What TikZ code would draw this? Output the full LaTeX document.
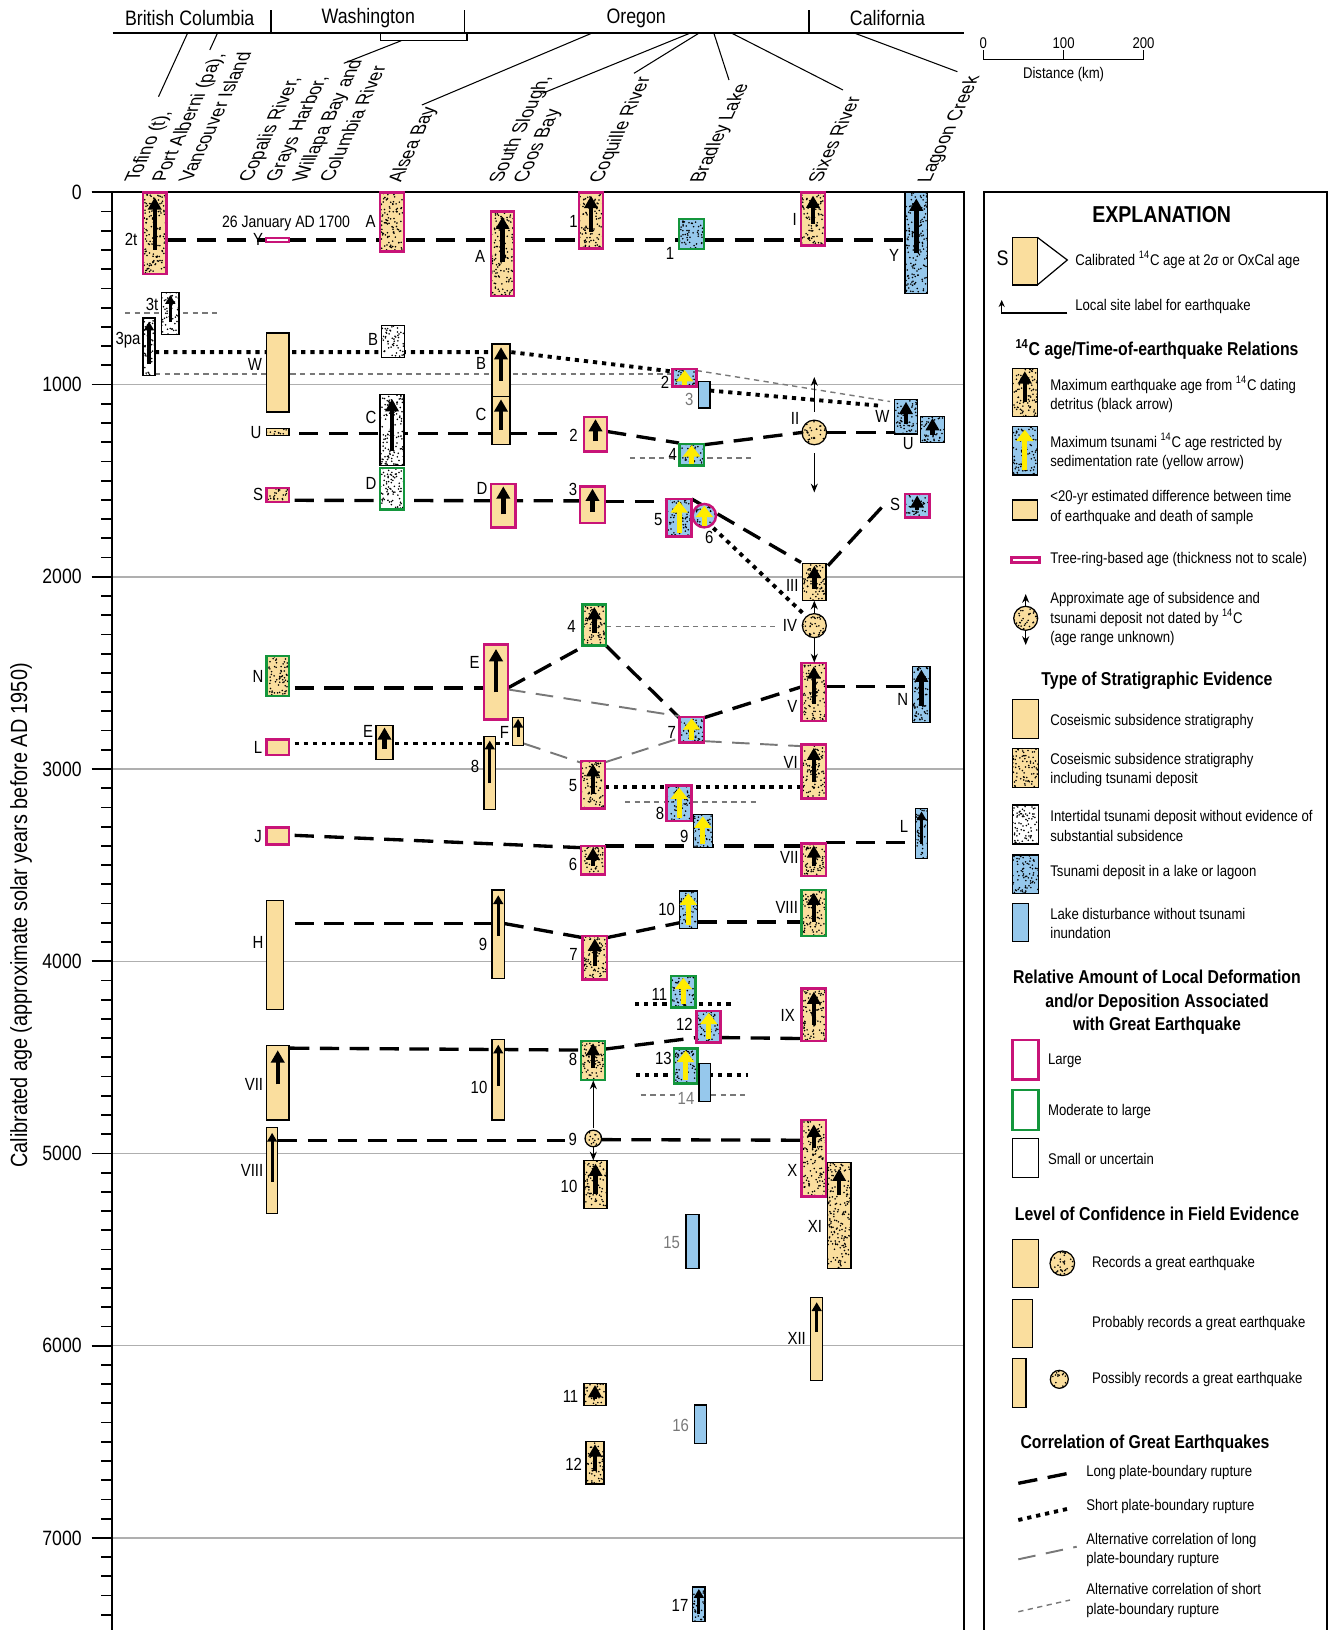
\documentclass[tikz,border=0pt]{standalone}
\usepackage{fontspec}
\setmainfont[FakeStretch=0.85]{Liberation Sans}
\usetikzlibrary{arrows.meta}

\definecolor{sand}{RGB}{250,222,158}
\definecolor{lblue}{RGB}{150,200,236}
\definecolor{qmag}{RGB}{200,20,120}
\definecolor{qgrn}{RGB}{20,150,60}
\definecolor{qyel}{RGB}{255,236,0}
\definecolor{rulegray}{RGB}{175,175,175}
\definecolor{altgray}{RGB}{120,120,120}

\tikzset{
  specks/.style={path picture={%
    \pgfpointdiff{\pgfpointanchor{path picture bounding box}{south west}}{\pgfpointanchor{path picture bounding box}{north east}}%
    \pgfgetlastxy{\spw}{\sph}%
    \pgfmathtruncatemacro{\spn}{\spw*\sph/4.5+1}%
    \foreach \k in {1,...,\spn}{\fill[black] ([shift={(rnd*\spw,rnd*\sph)}]path picture bounding box.south west) circle[radius=0.5pt];}%
  }},
  fsand/.style={fill=sand},
  fsdot/.style={fill=sand, specks},
  fwdot/.style={fill=white, specks},
  fbdot/.style={fill=lblue, specks},
  fblue/.style={fill=lblue},
  bmag/.style={draw=qmag, line width=1.4pt},
  bgrn/.style={draw=qgrn, line width=1.4pt},
  bblk/.style={draw=black, line width=0.7pt},
  blk/.style={draw=black, line width=2.5pt, -{Triangle[length=7pt, width=7.5pt]}},
  blks/.style={draw=black, line width=1.8pt, -{Triangle[length=5pt, width=5.5pt]}},
  yel/.style={draw=qyel, line width=3pt, -{Triangle[length=6.5pt, width=9.5pt]}},
  nar/.style={draw=none},
  longrup/.style={line width=1.9pt, dash pattern=on 11pt off 6pt},
  shortrup/.style={line width=2.2pt, dash pattern=on 2.4pt off 2.8pt},
  altlong/.style={draw=altgray, line width=1.1pt, dash pattern=on 10pt off 6pt},
  altshort/.style={draw=altgray, line width=0.8pt, dash pattern=on 3pt off 2.5pt},
  rule/.style={draw=rulegray, line width=0.8pt},
  thinarr/.style={line width=0.6pt, -{Stealth[length=5pt, width=4pt]}},
}

% box with optional arrow: [arrow style][tail fraction]{x1}{x2}{top}{bottom}{box style}
\NewDocumentCommand{\qb}{O{nar} O{0.7} m m m m m}{%
  \draw[#7] (#3,#5) rectangle (#4,#6);
  \draw[#1] ({(#3+#4)/2},{#5+#2*(#6-#5)}) -- ({(#3+#4)/2},{#5+0.06*(#6-#5)});
}

\begin{document}
\begin{tikzpicture}[x=0.02cm, y=-0.02cm,
  plbl/.style={font=\fontsize{10}{12}\selectfont, inner sep=0pt},
  glbl/.style={plbl, text=altgray},
  hdr/.style={font=\fontsize{11.9}{14}\selectfont, inner sep=0pt},
  site/.style={font=\fontsize{11.3}{15.4}\selectfont, inner sep=0pt, align=left,
    anchor=north west, xslant=0.466, rotate=90},
  tlbl/.style={font=\fontsize{11.8}{14}\selectfont, anchor=east, inner sep=0pt},
  etxt/.style={font=\fontsize{8.8}{11}\selectfont, anchor=west, align=left, inner sep=0pt},
  ehead/.style={font=\bfseries\fontsize{10.6}{13.3}\selectfont, align=center, inner sep=0pt}]
\pgfmathsetseed{7}
\useasboundingbox (0,0) rectangle (1329,1630);

% header
\draw[line width=1.1pt] (112.5,33.3) -- (964,33.3);
\foreach \dx in {271,464.3,809} \draw[line width=0.7pt] (\dx,10) -- (\dx,33.3);
\draw[line width=0.7pt] (380.4,33.3) -- (380.4,40.7) -- (467,40.7) -- (467,33.3);
\node[hdr] (bc) at (189.7,18.3) {British Columbia};
\node[hdr] (wa) at (368.3,18.3) {Washington};
\node[hdr] (or) at (636.2,18.3) {Oregon};
\node[hdr] (ca) at (887.5,18.3) {California};

% distance scale
\draw[line width=0.9pt] (983.3,50) -- (983.3,59.3) -- (1143.5,59.3) -- (1143.5,50);
\draw[line width=0.9pt] (1063.6,50) -- (1063.6,59.3);
\node[etxt, anchor=center] (k0) at (983.3,42.7) {0};
\node[etxt, anchor=center] (k100) at (1063.6,42.7) {100};
\node[etxt, anchor=center] (k200) at (1143.5,42.7) {200};
\node[etxt, anchor=center] (kdist) at (1063.6,74) {Distance (km)};

% site names and leaders
\node[site] (sTof) at (122.8,182) {Tofino (t),\\Port Alberni (pa),\\Vancouver Island};
\node[site] (sCop) at (236.6,182) {Copalis River,\\Grays Harbor,\\Willapa Bay and\\Columbia River};
\node[site] (sAls) at (386,183) {Alsea Bay};
\node[site, font=\fontsize{11.3}{14}\selectfont] (sSou) at (486.6,182.7) {South Slough,\\Coos Bay};
\node[site] (sCoq) at (587,182.7) {Coquille River};
\node[site] (sBra) at (688,182.7) {Bradley Lake};
\node[site] (sSix) at (806.3,182.7) {Sixes River};
\node[site] (sLag) at (915.5,182.7) {Lagoon Creek};
\draw[line width=0.6pt] (187.5,33.3) -- (158.5,96.7);
\draw[line width=0.6pt] (217.4,33.3) -- (209.8,50);
\draw[line width=0.6pt] (401.3,40.7) -- (343.8,63.3);
\draw[line width=0.6pt] (591.5,33.3) -- (421.9,105);
\draw[line width=0.6pt] (689.7,33.3) -- (542.4,93.3);
\draw[line width=0.6pt] (698.7,33.3) -- (634,73.3);
\draw[line width=0.6pt] (713.9,33.3) -- (729,80);
\draw[line width=0.6pt] (732,33.3) -- (843,90);
\draw[line width=0.6pt] (855,33.3) -- (957.4,71.7);

\node[rotate=90, font=\fontsize{13.3}{16}\selectfont, inner sep=0pt] (ytitle) at (21,915.5)
  {Calibrated age (approximate solar years before AD 1950)};

% chart: y in years
\begin{scope}[yshift=-3.848cm, y=-0.003848cm]
  \foreach \a in {1000,2000,...,7000} \draw[rule] (112,\a) -- (964,\a);
  \foreach \a in {100,200,...,7400} \draw[line width=1pt] (101,\a) -- (112,\a);
  \foreach \a in {0,1000,...,7000} {
    \draw[line width=1pt] (91.5,\a) -- (112,\a);
    \node[tlbl] at (82,\a) {\a};
  }
  \draw[line width=1.1pt] (112,0) -- (112,7480);
  \draw[line width=1.1pt] (91.5,0) -- (964,0) -- (964,7480);

  % long plate-boundary ruptures
  \draw[longrup] (167,247) -- (905,247);
  \draw[longrup] (299,1255) -- (562,1255);
  \draw[longrup] (607,1244) -- (679,1304);
  \draw[longrup] (704,1313) -- (802,1249);
  \draw[longrup] (826.6,1249) -- (894,1249);
  \draw[longrup] (294.6,1602) -- (581,1605);
  \draw[longrup] (605,1607) -- (666.7,1607);
  \draw[longrup] (691.7,1595) -- (801,1925);
  \draw[longrup] (828,1942) -- (885,1620);
  \draw[longrup] (294.6,2578) -- (484,2578);
  \draw[longrup] (508,2578) -- (585,2358);
  \draw[longrup] (606,2358) -- (679.3,2733);
  \draw[longrup] (704,2733) -- (801.7,2572);
  \draw[longrup] (826,2572) -- (912.7,2572);
  \draw[longrup] (294.6,3345) -- (581,3409);
  \draw[longrup] (605,3400) -- (801.7,3400);
  \draw[longrup] (826,3383) -- (915.7,3383);
  \draw[longrup] (294.6,3804) -- (492,3804);
  \draw[longrup] (504.5,3804) -- (582.6,3877);
  \draw[longrup] (607,3877) -- (679.3,3800);
  \draw[longrup] (697.3,3796) -- (801.7,3796);
  \draw[longrup] (290,4452) -- (581,4462);
  \draw[longrup] (605,4457) -- (696.7,4397);
  \draw[longrup] (720.7,4397) -- (801.7,4402);
  \draw[longrup] (278,4931) -- (565,4931);
  \draw[longrup] (601.6,4928) -- (801.7,4931);

  % short plate-boundary ruptures
  \draw[shortrup] (155,831) -- (511,831) -- (672.7,932);
  \draw[shortrup] (710,1031) -- (880,1110);
  \draw[shortrup] (294.6,2867) -- (512.5,2867);
  \draw[shortrup] (605,3092) -- (801.7,3092);
  \draw[shortrup] (713.3,1746) -- (803,2190);
  \draw[shortrup] (635,4224) -- (731.7,4224);
  \draw[shortrup] (636,4591) -- (748.3,4591);

  % alternative correlations
  \draw[altlong] (508,2586) -- (679.3,2725);
  \draw[altlong] (523.7,2867) -- (581,2967);
  \draw[altlong] (605,2965) -- (679.3,2840);
  \draw[altlong] (704,2855) -- (801.7,2881);
  \draw[altshort] (125,628) -- (216.5,628);
  \draw[altshort] (155,944) -- (672.7,944);
  \draw[altshort] (696.7,927) -- (890,1088);
  \draw[altshort] (630,1382) -- (751.7,1382);
  \draw[altshort] (606,2257) -- (775,2257);
  \draw[altshort] (625,3172) -- (758.3,3172);
  \draw[altshort] (640.7,4696) -- (675,4696);
  \draw[altshort] (711,4696) -- (748.3,4696);

  % Vancouver Island
  \qb[blk]{143}{166.5}{0}{426}{fsdot,bmag}
  \qb[blks]{161.6}{179}{521}{741}{fwdot,bblk}
  \qb[blks][0.8]{143}{155}{654}{954}{fwdot,bblk}

  % Washington
  \draw[fill=white, draw=qmag, line width=1.5pt] (266,237) rectangle (289,259);
  \qb{266.5}{289}{732}{1143}{fsand,bblk}
  \qb{266.5}{289}{1230}{1266}{fsdot,bblk}
  \qb{266.5}{289}{1538}{1611}{fsdot,bmag}
  \qb{266.5}{289}{2413}{2621}{fsdot,bgrn}
  \qb{266.5}{289}{2846}{2928}{fsand,bmag}
  \qb{266.5}{289}{3305}{3392}{fsand,bmag}
  \qb{266.5}{283.5}{3683}{4250}{fsand,bblk}
  \qb[blk][0.52]{266.5}{289}{4440}{4826}{fsand,bblk}
  \qb[blks][0.63]{266.5}{277.7}{4866}{5311}{fsand,bblk}

  % Alsea Bay
  \qb{380}{404}{0}{308}{fsdot,bmag}
  \qb{381.7}{404.5}{694}{859}{fwdot,bblk}
  \qb[blk][0.8]{380}{404}{1053}{1420}{fwdot,bblk}
  \qb{380}{404}{1434}{1651}{fwdot,bgrn}
  \qb[blk]{376}{393}{2773}{2950}{fsand,bblk}

  % South Slough
  \qb[blk][0.6]{491}{514}{100}{538}{fsdot,bmag}
  \qb[blk]{492}{510}{789}{1062}{fsand,bblk}
  \qb[blk]{492}{510}{1062}{1310}{fsand,bblk}
  \qb[blk]{491}{515.6}{1516}{1743}{fsand,bmag}
  \qb[blk][0.64]{484}{508}{2352}{2742}{fsand,bmag}
  \qb[blks]{512.5}{523.7}{2730}{2876}{fsand,bblk}
  \qb[blks][0.64]{484}{495.5}{2829}{3210}{fsand,bblk}
  \qb[blks][0.52]{492}{504.5}{3629}{4088}{fsand,bblk}
  \qb[blks][0.57]{492}{504.5}{4409}{4826}{fsand,bblk}

  % Coquille River
  \qb[blk]{579}{603}{0}{291}{fsdot,bmag}
  \qb[blk]{584}{607}{1169}{1348}{fsand,bmag}
  \qb[blk]{580}{605}{1530}{1720}{fsand,bmag}
  \qb[blk]{582.6}{606}{2144}{2358}{fsdot,bgrn}
  \qb[blk]{581}{605}{2959}{3205}{fsdot,bmag}
  \qb[blk]{581}{605}{3400}{3548}{fsdot,bmag}
  \qb[blk]{582.6}{607}{3868}{4094}{fsdot,bmag}
  \qb[blk]{581}{605}{4414}{4617}{fsdot,bgrn}
  \draw[fsdot,bblk] (593.3,4922) circle[radius=0.166cm];
  \qb[blk]{584}{607}{5038}{5288}{fsdot,bblk}
  \qb[blk]{584}{606}{6198}{6312}{fsdot,bblk}
  \qb[blk]{586}{604}{6500}{6719}{fsdot,bblk}

  % Bradley Lake
  \qb{679}{704}{138}{295}{fbdot,bgrn}
  \qb[yel][0.9]{672.7}{696.7}{919}{1010}{fbdot,bmag}
  \qb{698.3}{710}{984}{1122}{fblue,bblk}
  \qb[yel][0.9]{679.3}{704}{1308}{1422}{fbdot,bgrn}
  \qb[yel][0.9]{666.7}{691.7}{1595}{1790}{fbdot,bmag}
  \draw[fbdot,bmag] (704.3,1682) circle[radius=0.234cm];
  \draw[yel] (704.3,1735) -- (704.3,1630);
  \qb[yel][0.9]{679.3}{704}{2728}{2863}{fbdot,bmag}
  \qb[yel][0.9]{666.7}{691.7}{3085}{3271}{fbdot,bmag}
  \qb[yel][0.9]{693.3}{712.3}{3236}{3409}{fbdot,bblk}
  \qb[yel][0.9]{679.3}{697.3}{3635}{3830}{fbdot,bblk}
  \qb[yel][0.9]{671}{695.7}{4076}{4241}{fbdot,bgrn}
  \qb[yel][0.9]{696.7}{720.7}{4258}{4423}{fbdot,bmag}
  \qb[yel][0.9]{674}{697.3}{4454}{4636}{fbdot,bgrn}
  \qb{699}{710.7}{4530}{4730}{fblue,bblk}
  \qb{686}{699}{5318}{5597}{fblue,bblk}
  \qb{694.3}{706.7}{6308}{6510}{fblue,bblk}
  \qb[blks][0.8]{692.7}{705}{7255}{7434}{fbdot,bblk}

  % Sixes River
  \qb[blk][0.6]{801}{825}{0}{277}{fsdot,bmag}
  \draw[fsdot,bblk] (814.3,1249) circle[radius=0.246cm];
  \qb[blk]{802.7}{826}{1931}{2122}{fsdot,bblk}
  \draw[fsdot,bblk] (814.3,2254) circle[radius=0.24cm];
  \qb[blk]{801.7}{826}{2448}{2751}{fsdot,bmag}
  \qb[blk]{801.7}{826}{2872}{3154}{fsdot,bmag}
  \qb[blk]{801.7}{826}{3387}{3557}{fsdot,bmag}
  \qb[blk]{801.7}{826}{3629}{3868}{fsdot,bgrn}
  \qb[blk]{801.7}{826}{4142}{4414}{fsdot,bmag}
  \qb[blk][0.36]{801.7}{826}{4825}{5225}{fsdot,bmag}
  \qb[blk][0.31]{827.3}{851}{5046}{5597}{fsdot,bblk}
  \qb[blks][0.42]{810.7}{822.7}{5748}{6181}{fsand,bblk}

  % Lagoon Creek
  \qb[blk][0.6]{905}{927.6}{0}{528}{fbdot,bblk}
  \qb[blk]{894.3}{917.7}{1079}{1257}{fbdot,bblk}
  \qb[blk]{920.7}{944.3}{1166}{1301}{fbdot,bblk}
  \qb[blk]{905}{929.3}{1569}{1691}{fbdot,bmag}
  \qb[blk]{912.7}{930}{2465}{2759}{fbdot,bblk}
  \qb[blks]{915.7}{927.3}{3205}{3466}{fbdot,bblk}

  % age range unknown
  \draw[thinarr] (814.3,1140) -- (814.3,961);
  \draw[thinarr] (814.3,1356) -- (814.3,1561);
  \draw[thinarr] (814.3,2190) -- (814.3,2124);
  \draw[thinarr] (814.3,2318) -- (814.3,2446);
  \draw[thinarr] (593.3,4870) -- (593.3,4620);
  \draw[thinarr] (593.3,4966) -- (593.3,5036);

  % local site labels
  \node[plbl] (date) at (286,161) {\fontsize{9.4}{11}\selectfont 26 January AD 1700};
  \foreach \lx/\la/\lt/\ln in {131/247/2t/ka, 152/585/3t/kb, 128/767/3pa/kc, 258/247/Y/kd,
      370.5/152/A/ke, 480/331/A/kf, 573.6/152/1/kg, 670/316/1/kh, 794.6/143/I/ki, 894/326/Y/kj,
      255/897/W/kk, 373/767/B/kl, 481/888/B/km, 481/1157/C/kn, 371/1169/C/ko, 256/1249/U/kp,
      573.6/1266/2/kq, 665/989/2/kr, 795/1174/II/ks, 882.3/1166/W/kt, 908.3/1308/U/ku,
      672.7/1365/4/kv, 371/1516/D/kw, 258/1573/S/kx, 482/1538/D/ky, 573/1547/3/kz,
      658.3/1703/5/la, 709.3/1793/6/lb, 895/1625/S/lc, 792.3/2046/III/ld, 571.4/2257/4/le,
      790/2254/IV/lf, 474.5/2444/E/lg, 258/2520/N/lh, 792.3/2676/V/li, 902.7/2638/N/lj,
      671.7/2811/7/lk, 368/2803/E/ll, 258/2886/L/lm, 504.5/2808/F/ln, 475/2985/8/lo,
      790.7/2964/VI/lp, 573/3084/5/lq, 660/3231/8/lr, 684.3/3349/9/ls, 258/3349/J/lt,
      573/3496/6/lu, 789.3/3461/VII/lv, 904/3297/L/lw, 258/3903/H/lx, 483/3912/9/ly,
      573.6/3964/7/lz, 666.7/3733/10/ma, 786.7/3720/VIII/mb, 659.3/4172/11/mc, 684.3/4327/12/md,
      787.7/4281/IX/me, 254/4639/VII/mf, 479/4657/10/mg, 573/4513/8/mh, 663.3/4506/13/mi,
      252/5089/VIII/mj, 572.8/4925/9/mk, 569/5173/10/ml, 792.3/5090/X/mm, 815/5379/XI/mn,
      796.7/5961/XII/mo, 570.5/6266/11/mp, 573.6/6617/12/mq, 680/7350/17/mr}
    \node[plbl] (\ln) at (\lx,\la) {\lt};
  \foreach \lx/\la/\lt/\ln in {689.3/1079/3/ga, 686/4714/14/gb, 671.7/5462/15/gc, 680.7/6415/16/gd}
    \node[glbl] (\ln) at (\lx,\la) {\lt};
\end{scope}

% explanation
\draw[line width=1.1pt] (984.3,1630) -- (984.3,191.7) -- (1326.7,191.7) -- (1326.7,1630);
\node[font=\bfseries\fontsize{13.1}{15}\selectfont, inner sep=0pt] (xtitle) at (1161.7,215) {EXPLANATION};
\node[font=\fontsize{12}{14}\selectfont, inner sep=0pt] (xS) at (1002.7,258.3) {S};
\draw[fsand,bblk] (1012.3,237.3) rectangle (1037.3,285);
\draw[line width=0.7pt] (1037.3,237.3) -- (1067.3,260) -- (1037.3,285);
\node[etxt] (xcal) at (1075,260) {Calibrated \textsuperscript{14}C age at 2σ or OxCal age};
\draw[line width=0.6pt, -{Stealth[length=4pt, width=3.5pt]}] (1067.3,313) -- (1001.7,313) -- (1001.7,300);
\node[etxt] (xloc) at (1075,306) {Local site label for earthquake};

\node[ehead] (h1) at (1157,349.3) {\textsuperscript{14}C age/Time-of-earthquake Relations};
\qb[blk]{1012.3}{1037.3}{368.3}{416.7}{fsdot,bblk}
\node[etxt] (r1) at (1050,394.7) {Maximum earthquake age from \textsuperscript{14}C dating\\detritus (black arrow)};
\qb[yel][0.9]{1012.3}{1037.3}{426.7}{475}{fbdot,bblk}
\node[etxt] (r2) at (1050,451.2) {Maximum tsunami \textsuperscript{14}C age restricted by\\sedimentation rate (yellow arrow)};
\draw[fsand,bblk] (1012.3,500) rectangle (1037.3,520);
\node[etxt] (r3) at (1050,507.5) {<20-yr estimated difference between time\\of earthquake and death of sample};
\draw[fill=white, draw=qmag, line width=1.5pt] (1011.7,557.5) rectangle (1039.3,562.5);
\node[etxt] (r4) at (1050,559.3) {Tree-ring-based age (thickness not to scale)};
\draw[fsdot,bblk] (1025.7,618.3) circle[radius=0.24cm];
\draw[thinarr] (1025.7,606.3) -- (1025.7,594);
\draw[thinarr] (1025.7,630.3) -- (1025.7,645);
\node[etxt] (r5) at (1050,619.3) {Approximate age of subsidence and\\tsunami deposit not dated by \textsuperscript{14}C\\(age range unknown)};

\node[ehead] (h2) at (1157,680.7) {Type of Stratigraphic Evidence};
\draw[fsand,bblk] (1012.3,699.3) rectangle (1038.3,738.3);
\node[etxt] (t1) at (1050,721.7) {Coseismic subsidence stratigraphy};
\draw[fsdot,bblk] (1012.3,748.3) rectangle (1038.3,787.7);
\node[etxt] (t2) at (1050,770.2) {Coseismic subsidence stratigraphy\\including tsunami deposit};
\draw[fwdot,bblk] (1012.3,805) rectangle (1038.3,844);
\node[etxt] (t3) at (1050,825.8) {Intertidal tsunami deposit without evidence of\\substantial subsidence};
\draw[fbdot,bblk] (1012.3,855) rectangle (1038.3,893.3);
\node[etxt] (t4) at (1050,872.7) {Tsunami deposit in a lake or lagoon};
\draw[fblue,bblk] (1012.3,903.3) rectangle (1028.3,941.7);
\node[etxt] (t5) at (1050,923.2) {Lake disturbance without tsunami\\inundation};

\node[ehead] (h3) at (1157,1002.3) {Relative Amount of Local Deformation\\and/or Deposition Associated\\with Great Earthquake};
\draw[fill=white, bmag] (1012.3,1040) rectangle (1038.3,1079.3);
\node[etxt] (d1) at (1047.7,1061) {Large};
\draw[fill=white, bgrn] (1012.3,1090) rectangle (1038.3,1130);
\node[etxt] (d2) at (1047.7,1111) {Moderate to large};
\draw[fill=white, bblk] (1012.3,1138.3) rectangle (1038.3,1177.7);
\node[etxt] (d3) at (1047.7,1159.3) {Small or uncertain};

\node[ehead] (h4) at (1157,1214) {Level of Confidence in Field Evidence};
\draw[fsand,bblk] (1012.3,1239.3) rectangle (1038.3,1287.7);
\draw[fsdot,bblk] (1062.3,1263.3) circle[radius=0.246cm];
\node[etxt] (c1) at (1091.7,1263.3) {Records a great earthquake};
\draw[fsand,bblk] (1012.3,1299.3) rectangle (1032.3,1347.7);
\node[etxt] (c2) at (1091.7,1323.3) {Probably records a great earthquake};
\draw[fsand,bblk] (1012.3,1358.7) rectangle (1026,1407.3);
\draw[fsdot,bblk] (1059.3,1379.3) circle[radius=0.18cm];
\node[etxt] (c3) at (1091.7,1379.3) {Possibly records a great earthquake};

\node[ehead] (h5) at (1145,1444) {Correlation of Great Earthquakes};
\draw[longrup] (1018.3,1483.3) -- (1076.7,1471.7);
\node[etxt] (g1) at (1086,1472.7) {Long plate-boundary rupture};
\draw[shortrup] (1018.3,1520) -- (1070,1508.3);
\node[etxt] (g2) at (1086,1506.7) {Short plate-boundary rupture};
\draw[altlong] (1018.3,1559.3) -- (1076.7,1546.7);
\node[etxt] (g3) at (1086,1549.7) {Alternative correlation of long\\plate-boundary rupture};
\draw[altshort] (1018.3,1611.7) -- (1070,1600);
\node[etxt] (g4) at (1086,1600.4) {Alternative correlation of short\\plate-boundary rupture};
\end{tikzpicture}
\end{document}
